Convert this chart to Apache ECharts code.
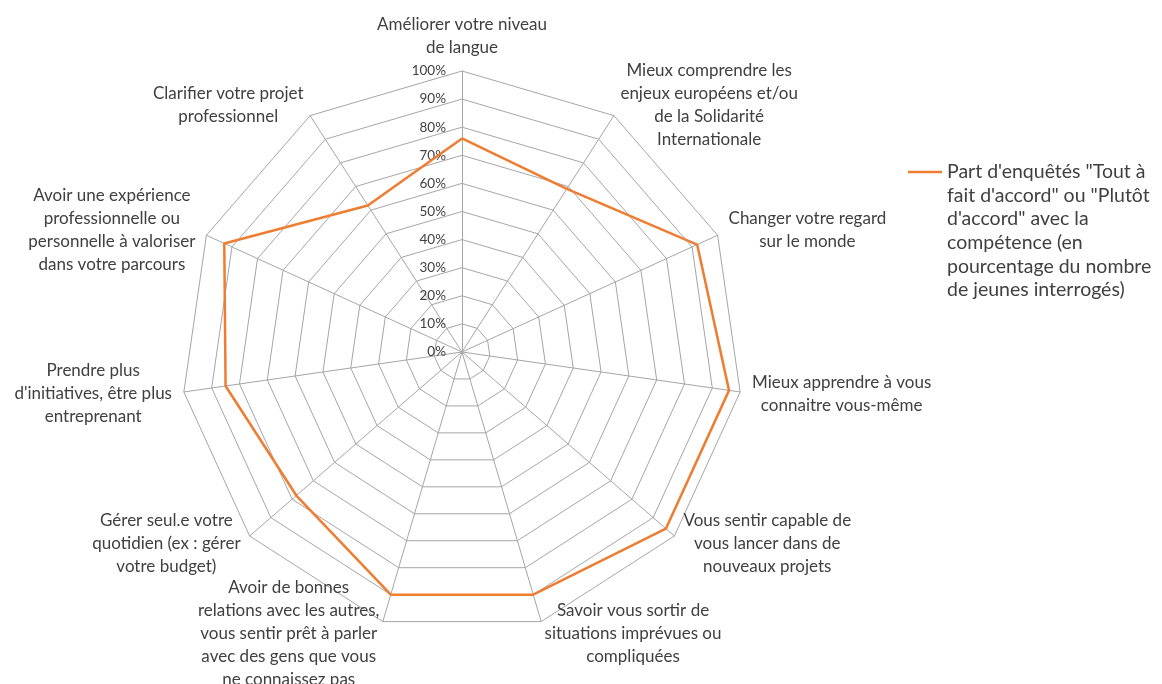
<!DOCTYPE html>
<html><head><meta charset="utf-8">
<script src="https://cdn.jsdelivr.net/npm/echarts@6/dist/echarts.min.js"></script>
<style>html,body{margin:0;padding:0;background:#fff}#c{width:1162px;height:684px}</style>
</head><body><div id="c"></div>
<script>
// Categories in clockwise order starting from the top
const categories = [
  ["Améliorer votre niveau", "de langue"],
  ["Mieux comprendre les", "enjeux européens et/ou", "de la Solidarité", "Internationale"],
  ["Changer votre regard", "sur le monde"],
  ["Mieux apprendre à vous", "connaitre vous-même"],
  ["Vous sentir capable de", "vous lancer dans de", "nouveaux projets"],
  ["Savoir vous sortir de", "situations imprévues ou", "compliquées"],
  ["Avoir de bonnes", "relations avec les autres,", "vous sentir prêt à parler", "avec des gens que vous", "ne connaissez pas"],
  ["Gérer seul.e votre", "quotidien (ex : gérer", "votre budget)"],
  ["Prendre plus", "d'initiatives, être plus", "entreprenant"],
  ["Avoir une expérience", "professionnelle ou", "personnelle à valoriser", "dans votre parcours"],
  ["Clarifier votre projet", "professionnel"]
];
const values = [76, 69, 92, 96, 96, 90, 90, 78, 85, 93, 62];
const seriesLines = ["Part d'enquêtés \"Tout à", "fait d'accord\" ou \"Plutôt", "d'accord\" avec la", "compétence (en", "pourcentage du nombre", "de jeunes interrogés)"];
const seriesName = seriesLines.join('\n');
const tickMax = 100;
const tickStep = 10;

// ECharts radar places indicators counter-clockwise; reorder to keep clockwise layout
const order = [0].concat(categories.map((_, i) => i).slice(1).reverse());
const indicator = order.map((i, k) => ({
  name: categories[i].map(l => '{c|' + l + '}').join('\n'),
  min: 0, max: tickMax,
  axisLabel: { show: k === 0 }
}));
const data = order.map(i => values[i]);

const chart = echarts.init(document.getElementById('c'), null, {renderer: 'canvas'});
const font = 'Lato, "Open Sans", sans-serif';
const legendLH = 23.6;
const pad = seriesLines.length - 1;
chart.setOption({
  animation: false,
  backgroundColor: '#fff',
  legend: {
    orient: 'vertical',
    left: 908, top: 172 - (2 * pad + 1) * legendLH / 2,
    padding: 0,
    itemWidth: 34, itemHeight: 14, itemGap: 0,
    // leading blank lines keep the icon level with the first text line
    formatter: name => '\n'.repeat(pad) + name,
    textStyle: { fontFamily: font, fontSize: 19.5, color: '#404040', lineHeight: legendLH },
    data: [{ name: seriesName, icon: 'path://M0,6 L34,6 L34,8.4 L0,8.4 Z' }]
  },
  radar: {
    center: [462, 352],
    radius: 281,
    startAngle: 90,
    shape: 'polygon',
    splitNumber: tickMax / tickStep,
    indicator: indicator,
    axisNameGap: 12,
    axisName: {
      color: '#404040',
      fontFamily: font,
      fontSize: 17,
      lineHeight: 23,
      rich: { c: { align: 'center', fontFamily: font, fontSize: 17, lineHeight: 23, color: '#404040' } }
    },
    axisLine: { lineStyle: { color: '#a6a6a6', width: 1 } },
    splitLine: { lineStyle: { color: '#a6a6a6', width: 1 } },
    splitArea: { show: false },
    axisTick: { show: false },
    axisLabel: {
      show: false,
      margin: 16,
      fontFamily: font, fontSize: 13.5, color: '#404040',
      formatter: v => v + '%'
    }
  },
  series: [{
    type: 'radar',
    name: seriesName,
    symbol: 'none',
    lineStyle: { color: '#ed7d31', width: 2.5 },
    itemStyle: { color: '#ed7d31' },
    data: [{ value: data, name: seriesName }]
  }]
});
</script></body></html>
